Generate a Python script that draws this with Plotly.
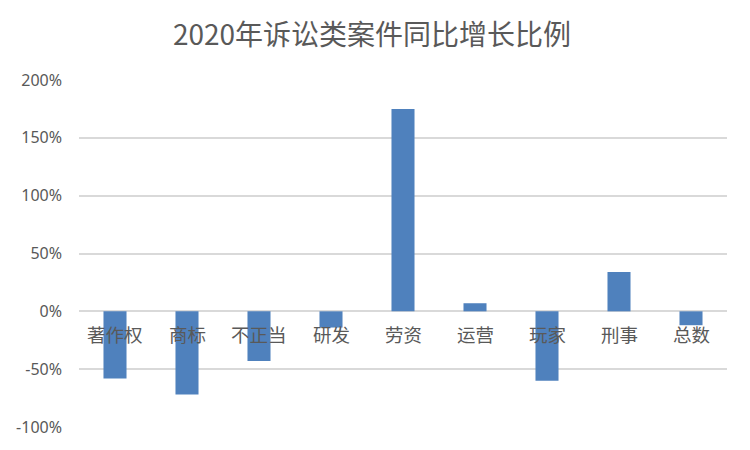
import plotly.graph_objects as go

categories = ["著作权", "商标", "不正当", "研发", "劳资", "运营", "玩家", "刑事", "总数"]
growth = [-0.58, -0.72, -0.43, -0.14, 1.75, 0.07, -0.60, 0.34, -0.12]
y_ticks = [-1.0, -0.5, 0.0, 0.5, 1.0, 1.5, 2.0]
y_tick_labels = ["-100%", "-50%", "0%", "50%", "100%", "150%", "200%"]
title_text = "2020年诉讼类案件同比增长比例"

# page body has an 8px default margin; figure is sized so the page is 750x450
W, H, OFF = 742, 442, 8

fig = go.Figure()
fig.add_trace(go.Bar(
    x=categories, y=growth,
    marker=dict(color="#4F81BD", line=dict(width=0)),
    hoverinfo="x+y",
))

for c in categories:
    fig.add_annotation(
        x=c, y=0, xref="x", yref="y", text=c, showarrow=False,
        yanchor="top", yshift=-8,
        font=dict(family="Noto Sans CJK SC", size=18.5, color="#595959"),
    )

fig.update_layout(
    width=W, height=H,
    margin=dict(l=79 - OFF, r=23, t=80 - OFF, b=23, autoexpand=False),
    paper_bgcolor="white", plot_bgcolor="white",
    bargap=0.68,
    showlegend=False,
    title=dict(text=title_text, x=(372 - OFF) / W, xanchor="center",
               y=1 - (35 - OFF) / H, yanchor="middle",
               font=dict(family="Noto Sans CJK SC", size=28, color="#595959")),
    xaxis=dict(showticklabels=False, showgrid=False, zeroline=False, showline=False, ticks=""),
    yaxis=dict(range=[-1.0, 2.0], tickvals=y_ticks, ticktext=y_tick_labels,
               showgrid=True, gridcolor="#D9D9D9", gridwidth=2,
               zeroline=True, zerolinecolor="#D9D9D9", zerolinewidth=2,
               showline=False, ticks="", ticklabelstandoff=16, automargin=False,
               tickfont=dict(family="Noto Sans", size=16, color="#595959")),
)

fig.write_html("out.html")
